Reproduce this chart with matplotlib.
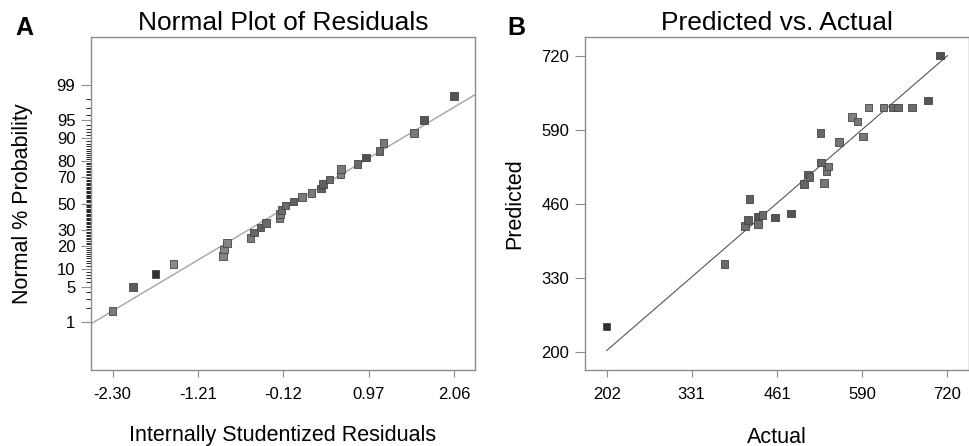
import numpy as np
import matplotlib
matplotlib.use("Agg")
import matplotlib.pyplot as plt
from statistics import NormalDist

plt.rcParams['font.family'] = ['Liberation Sans', 'DejaVu Sans']

# --- panel A: normal plot of residuals ---
residuals = [-2.30, -2.04, -1.75, -1.52, -0.89, -0.88, -0.84, -0.54, -0.49, -0.41,
             -0.34, -0.17, -0.165, -0.14, -0.09, 0.01, 0.12, 0.24, 0.36, 0.39,
             0.47, 0.612, 0.618, 0.83, 0.94, 1.11, 1.16, 1.55, 1.68, 2.06]
norm_prob = [1.7, 5.0, 8.3, 11.7, 15.0, 18.3, 21.7, 25.0, 28.3, 31.7,
             35.0, 38.3, 41.7, 45.0, 48.3, 51.7, 55.0, 58.3, 61.7, 65.0,
             68.3, 71.7, 75.0, 78.3, 81.7, 85.0, 88.3, 91.7, 95.0, 98.3]
resid_colors = ['#7a7a7a', '#5c5c5c', '#303030', '#8a8a8a', '#858585', '#858585', '#858585',
                '#7a7a7a', '#666666', '#606060', '#6a6a6a', '#7a7a7a', '#7a7a7a', '#6a6a6a',
                '#6a6a6a', '#606060', '#7a7a7a', '#7a7a7a', '#606060', '#606060', '#6a6a6a',
                '#808080', '#7a7a7a', '#6a6a6a', '#505050', '#6a6a6a', '#7a7a7a', '#7a7a7a',
                '#555555', '#555555']
resid_ticks = [-2.30, -1.21, -0.12, 0.97, 2.06]
prob_major = [1, 5, 10, 20, 30, 50, 70, 80, 90, 95, 99]
fit_slope = 0.92
fit_intercept = 0.0

# --- panel B: predicted vs actual ---
actual = [202, 381, 412, 417, 419, 431, 432, 439, 458, 482,
          502, 508, 510, 527, 528, 532, 536, 539, 555, 575,
          583, 592, 600, 623, 637, 645, 666, 690, 709]
predicted = [244, 354, 421, 431, 468, 437, 424, 440, 436, 443,
             494, 511, 507, 584, 532, 496, 517, 525, 568, 612,
             604, 578, 629, 629, 629, 629, 629, 641, 720]
pred_colors = ['#303030', '#6a6a6a', '#6e6e6e', '#606060', '#606060', '#555555', '#707070',
               '#6a6a6a', '#555555', '#555555', '#666666', '#666666', '#666666', '#666666',
               '#666666', '#777777', '#777777', '#777777', '#777777', '#808080', '#777777',
               '#777777', '#808080', '#7a7a7a', '#6a6a6a', '#6a6a6a', '#6a6a6a', '#555555',
               '#505050']
actual_ticks = [202, 331, 461, 590, 720]
pred_ticks = [200, 330, 460, 590, 720]

spine_c = '#8c8c8c'
nd = NormalDist()


def style_axes(ax):
    for sp in ax.spines.values():
        sp.set_color(spine_c)
        sp.set_linewidth(1.0)
    ax.tick_params(colors=spine_c, labelcolor='black', labelsize=12)
    ax.tick_params(axis='x', length=5, pad=7)
    ax.tick_params(axis='y', which='major', length=7, pad=4)
    ax.tick_params(axis='y', which='minor', length=3.5)


fig = plt.figure(figsize=(9.7, 4.46), dpi=100)
axA = fig.add_axes([0.0935, 0.1704, 0.3962, 0.7466])
axB = fig.add_axes([0.6028, 0.1704, 0.3957, 0.7466])

# A
z = [nd.inv_cdf(p / 100) for p in norm_prob]
xlimA = (-2.58, 2.33)
axA.plot(xlimA, [fit_intercept + fit_slope * v for v in xlimA], color='#ababab', lw=1.1, zorder=2)
axA.scatter(residuals, z, marker='s', s=30, c=resid_colors, edgecolors='#444444',
            linewidths=0.6, zorder=3)
axA.set_xlim(*xlimA)
axA.set_ylim(-3.28, 3.28)
axA.set_xticks(resid_ticks)
axA.set_xticklabels(['%.2f' % t for t in resid_ticks])
axA.set_yticks([nd.inv_cdf(p / 100) for p in prob_major])
axA.set_yticklabels([str(p) for p in prob_major])
axA.set_yticks([nd.inv_cdf(p / 100) for p in range(1, 100) if p not in prob_major], minor=True)
style_axes(axA)
axA.set_title('Normal Plot of Residuals', fontsize=19, pad=5)
axA.set_xlabel('Internally Studentized Residuals', fontsize=15.5)
axA.xaxis.set_label_coords(0.5, -0.165)
axA.set_ylabel('Normal % Probability', fontsize=15.5)
axA.yaxis.set_label_coords(-0.15, 0.5)

# B
axB.plot([202, 720], [202, 720], color='#555555', lw=0.8, zorder=2)
axB.scatter(actual, predicted, marker='s', s=30, c=pred_colors, edgecolors='#444444',
            linewidths=0.6, zorder=3)
axB.set_xlim(168.6, 752)
axB.set_ylim(167.8, 752.7)
axB.set_xticks(actual_ticks)
axB.set_yticks(pred_ticks)
style_axes(axB)
axB.set_title('Predicted vs. Actual', fontsize=19, pad=5)
axB.set_xlabel('Actual', fontsize=15.5)
axB.xaxis.set_label_coords(0.5, -0.17)
axB.set_ylabel('Predicted', fontsize=15.5)
axB.yaxis.set_label_coords(-0.155, 0.5)

fig.text(0.0155, 0.922, 'A', fontsize=18, fontweight='bold')
fig.text(0.523, 0.922, 'B', fontsize=18, fontweight='bold')

fig.savefig('out.png', dpi=100)
